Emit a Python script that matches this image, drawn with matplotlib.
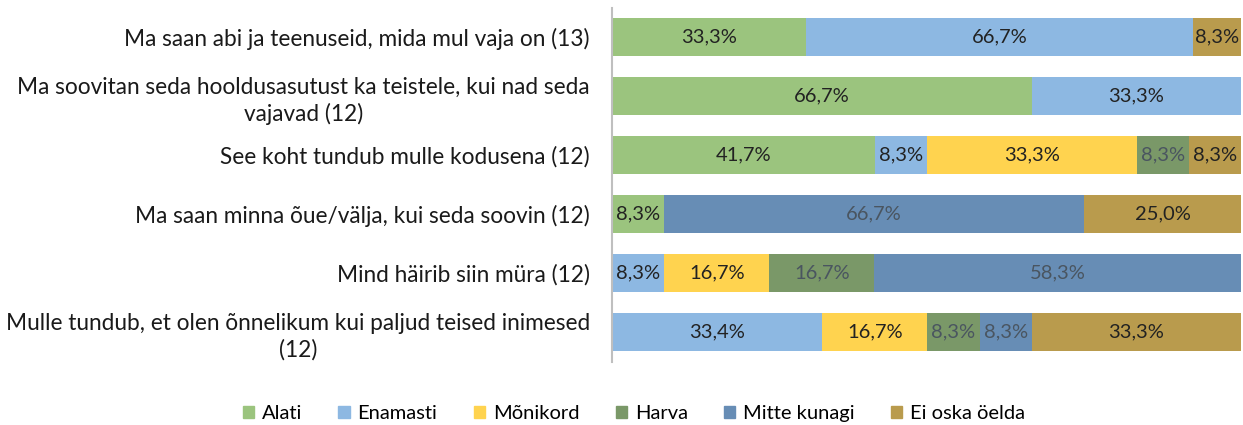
import numpy as np
import matplotlib.pyplot as plt
from matplotlib.patches import Patch

# categories, top to bottom
labels = [
    'Ma saan abi ja teenuseid, mida mul vaja on (13)',
    'Ma soovitan seda hooldusasutust ka teistele, kui nad seda\nvajavad (12)',
    'See koht tundub mulle kodusena (12)',
    'Ma saan minna õue/välja, kui seda soovin (12)',
    'Mind häirib siin müra (12)',
    'Mulle tundub, et olen õnnelikum kui paljud teised inimesed\n(12)',
]
series = ['Alati', 'Enamasti', 'Mõnikord', 'Harva', 'Mitte kunagi', 'Ei oska öelda']

alati = [33.3, 66.7, 41.7, 8.3, 0, 0]
enamasti = [66.7, 33.3, 8.3, 0, 8.3, 33.4]
monikord = [0, 0, 33.3, 0, 16.7, 16.7]
harva = [0, 0, 8.3, 0, 16.7, 8.3]
mitte_kunagi = [0, 0, 0, 66.7, 58.3, 8.3]
ei_oska = [8.3, 0, 8.3, 25.0, 0, 33.3]

colors = ['#9BC47E', '#8DB8E2', '#FFD34F', '#7A9868', '#678DB5', '#B99B4D']
text_colors = ['#222222', '#222222', '#222222', '#4A5560', '#4A5560', '#222222']

values = np.array([alati, enamasti, monikord, harva, mitte_kunagi, ei_oska])
# bars are stretched to full width (first row sums over 100)
shares = values / values.sum(axis=0)

plt.rcParams['font.family'] = ['Lato', 'DejaVu Sans']
fs = 14.5

fig = plt.figure(figsize=(12.43, 4.25), dpi=100)
ax = fig.add_axes([0.4924, 0.149, 0.5062, 0.833])

y = np.arange(len(labels))
left = np.zeros(len(labels))
for i, name in enumerate(series):
    ax.barh(y, shares[i], left=left, height=0.65, color=colors[i], label=name)
    for j in range(len(labels)):
        if values[i, j] > 0:
            txt = f'{values[i, j]:.1f}'.replace('.', ',') + '%'
            ax.text(left[j] + shares[i, j] / 2, y[j], txt, ha='center', va='center',
                    fontsize=fs, color=text_colors[i])
    left += shares[i]

ax.set_xlim(0, 1)
ax.set_ylim(len(labels) - 0.5, -0.5)
ax.set_yticks(y)
ax.set_yticklabels(labels, fontsize=16.3, color='#1a1a1a', multialignment='center',
                   linespacing=1.3)
ax.tick_params(axis='y', length=0, pad=16)
ax.set_xticks([])
for s in ['top', 'right', 'bottom']:
    ax.spines[s].set_visible(False)
ax.spines['left'].set_color('#BFBFBF')
ax.spines['left'].set_linewidth(1.5)

handles = [Patch(color=c, label=n) for c, n in zip(colors, series)]
fig.legend(handles=handles, loc='lower center', bbox_to_anchor=(0.51, -0.035), ncol=6,
           frameon=False, fontsize=fs, handlelength=0.55, handleheight=0.55,
           handletextpad=0.4, columnspacing=1.8)

fig.savefig('out.png', dpi=100)
